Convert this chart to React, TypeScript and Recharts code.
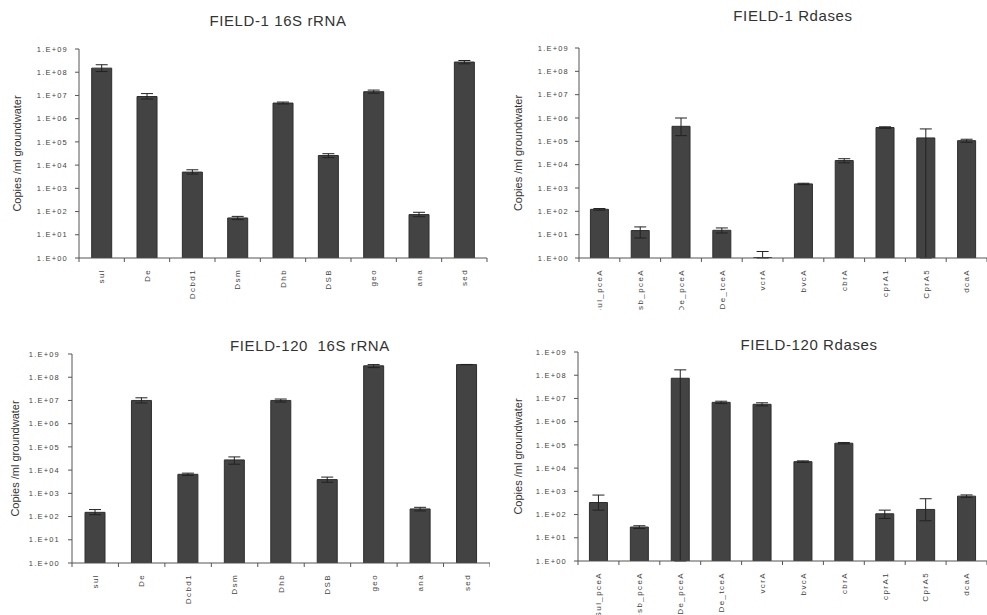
import React from 'react';
import { BarChart, Bar, XAxis, YAxis, ErrorBar } from 'recharts';

const FONT = '"Liberation Sans", Arial, Helvetica, sans-serif';

// shared categories
const rrnaLabels = ['sul', 'De', 'Dcbd1', 'Dsm', 'Dhb', 'DSB', 'geo', 'ana', 'sed'];
const rdaseLabels = ['Sul_pceA', 'Dsb_pceA', 'De_pceA', 'De_tceA', 'vcrA', 'bvcA', 'cbrA', 'cprA1', 'CprA5', 'dcaA'];

// FIELD-1 16S rRNA (mean, lower end of error bar, upper end of error bar)
const f1RrnaMean = [1.5e8, 9e6, 5e3, 53, 4.7e6, 2.6e4, 1.45e7, 74, 2.75e8];
const f1RrnaLow = [1.07e8, 7e6, 4.1e3, 45, 4.3e6, 2.1e4, 1.25e7, 60, 2.3e8];
const f1RrnaHigh = [2.1e8, 1.2e7, 6.3e3, 62, 5.2e6, 3.1e4, 1.7e7, 93, 3.2e8];

// FIELD-1 Rdases
const f1RdaseMean = [122, 15, 4.4e5, 15.4, 1.03, 1.5e3, 1.5e4, 3.9e5, 1.4e5, 1.07e5];
const f1RdaseLow = [112, 7.2, 1.75e5, 11.8, 1, 1.4e3, 1.2e4, 3.6e5, 1, 9.1e4];
const f1RdaseHigh = [132, 21.5, 1e6, 19.4, 1.9, 1.6e3, 1.8e4, 4.2e5, 3.4e5, 1.23e5];

// FIELD-120 16S rRNA
const f120RrnaMean = [152, 1.0e7, 6.6e3, 2.75e4, 1e7, 3.9e3, 3.1e8, 213, 3.5e8];
const f120RrnaLow = [120, 7.8e6, 5.9e3, 1.8e4, 8.5e6, 3.0e3, 2.6e8, 175, 3.45e8];
const f120RrnaHigh = [200, 1.3e7, 7.4e3, 3.7e4, 1.15e7, 5.0e3, 3.5e8, 250, 3.55e8];

// FIELD-120 Rdases
const f120RdaseMean = [330, 29, 7.4e7, 6.8e6, 5.6e6, 1.9e4, 1.18e5, 108, 166, 620];
const f120RdaseLow = [155, 25, 1, 6.0e6, 4.8e6, 1.75e4, 1.1e5, 68, 54, 550];
const f120RdaseHigh = [690, 33, 1.7e8, 7.6e6, 6.5e6, 2.05e4, 1.27e5, 155, 480, 700];

const logTicks = [1, 10, 100, 1e3, 1e4, 1e5, 1e6, 1e7, 1e8, 1e9];
const fmtSci = (v: number) => `1.E+${String(Math.round(Math.log10(v))).padStart(2, '0')}`;

const build = (labels: string[], mean: number[], low: number[], high: number[]) =>
  labels.map((name, i) => ({
    name,
    value: mean[i],
    err: [mean[i] - low[i], high[i] - mean[i]],
  }));

const CatTick = (props: any) => {
  const { x, y, payload, index, visibleTicksCount } = props;
  const half = payload && payload.offset ? payload.offset : 20;
  const isLast = index === visibleTicksCount - 1;
  return (
    <g>
      <line x1={x - half} x2={x - half} y1={y} y2={y + 4} stroke="#555" />
      {isLast && <line x1={x + half} x2={x + half} y1={y} y2={y + 4} stroke="#555" />}
      <text
        transform={`translate(${x},${y + 11}) rotate(-90)`}
        textAnchor="end"
        dy="0.35em"
        fontSize={8}
        letterSpacing={1.4}
        fill="#444"
        fontFamily={FONT}
      >
        {payload.value}
      </text>
    </g>
  );
};

type PanelProps = {
  title: string;
  data: any[];
  left: number;
  top: number;
  width: number;
  height: number;
  axisX: number;
  plotTop: number;
  plotBottom: number;
  rightGap: number;
  labelX: number;
  tickGap: number;
  titleX: number;
  titleY: number;
};

const Panel = (p: PanelProps) => (
  <div style={{ position: 'absolute', left: p.left, top: p.top, width: p.width, height: p.height }}>
    <BarChart
      width={p.width}
      height={p.height}
      data={p.data}
      margin={{ top: p.plotTop, right: p.rightGap, left: 0, bottom: 0 }}
      barCategoryGap="28%"
      style={{ overflow: 'visible' }}
    >
      <XAxis
        dataKey="name"
        height={p.height - p.plotBottom}
        axisLine={{ stroke: '#555' }}
        tickLine={false}
        tickSize={0}
        tickMargin={0}
        interval={0}
        tick={<CatTick />}
      />
      <YAxis
        scale="log"
        type="number"
        domain={[1, 1e9]}
        allowDataOverflow
        ticks={logTicks}
        interval={0}
        width={p.axisX}
        tickFormatter={fmtSci}
        axisLine={{ stroke: '#555' }}
        tickLine={{ stroke: '#555' }}
        tickSize={4}
        tickMargin={p.tickGap}
        tick={{ fontSize: 7.5, fill: '#444', fontFamily: FONT, letterSpacing: 1.2 }}
        label={{
          value: 'Copies /ml groundwater',
          angle: -90,
          position: 'insideLeft',
          offset: p.labelX,
          fill: '#333',
          fontSize: 11,
          fontFamily: FONT,
          style: { textAnchor: 'middle' },
        }}
      />
      <Bar dataKey="value" fill="#434343" stroke="#2e2e2e" strokeWidth={1} isAnimationActive={false}>
        <ErrorBar dataKey="err" width={6} stroke="#222" strokeWidth={1} direction="y" />
      </Bar>
    </BarChart>
    <div
      style={{
        position: 'absolute',
        left: p.titleX - 150,
        top: p.titleY - 9,
        width: 300,
        textAlign: 'center',
        fontFamily: FONT,
        fontSize: 15,
        lineHeight: '18px',
        letterSpacing: 0.6,
        color: '#333',
        whiteSpace: 'pre',
      }}
    >
      {p.title}
    </div>
  </div>
);

const App = () => (
  <div
    style={{
      position: 'absolute',
      left: 0,
      top: 0,
      width: 987,
      height: 615,
      background: '#fff',
      overflow: 'hidden',
    }}
  >
    <Panel
      title="FIELD-1 16S rRNA"
      data={build(rrnaLabels, f1RrnaMean, f1RrnaLow, f1RrnaHigh)}
      left={0} top={0} width={490} height={310}
      axisX={79} plotTop={49} plotBottom={258} rightGap={3}
      labelX={17} tickGap={7} titleX={278} titleY={21}
    />
    <Panel
      title="FIELD-1 Rdases"
      data={build(rdaseLabels, f1RdaseMean, f1RdaseLow, f1RdaseHigh)}
      left={490} top={0} width={497} height={310}
      axisX={89} plotTop={48} plotBottom={258} rightGap={0}
      labelX={28} tickGap={6} titleX={303} titleY={16}
    />
    <Panel
      title={'FIELD-120  16S rRNA'}
      data={build(rrnaLabels, f120RrnaMean, f120RrnaLow, f120RrnaHigh)}
      left={0} top={305} width={490} height={310}
      axisX={72} plotTop={49} plotBottom={258} rightGap={0}
      labelX={15} tickGap={8} titleX={310} titleY={41}
    />
    <Panel
      title="FIELD-120 Rdases"
      data={build(rdaseLabels, f120RdaseMean, f120RdaseLow, f120RdaseHigh)}
      left={490} top={305} width={497} height={310}
      axisX={88} plotTop={47} plotBottom={256} rightGap={0}
      labelX={28} tickGap={7} titleX={319} titleY={40}
    />
  </div>
);

export default App;
